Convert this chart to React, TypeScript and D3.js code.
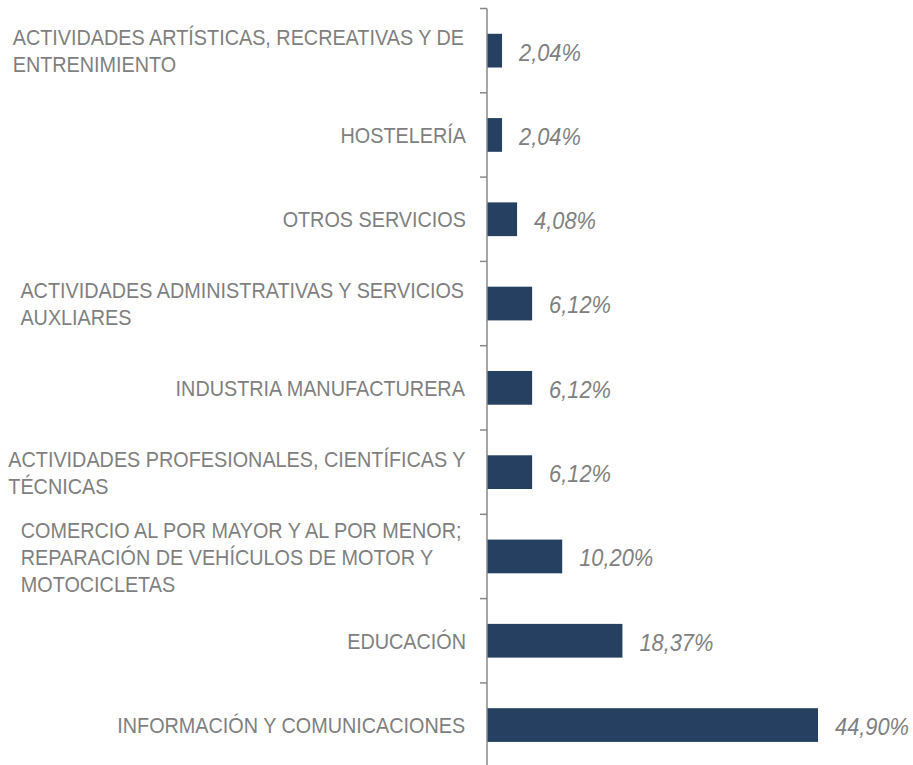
import React, { useMemo } from "react";
import * as d3 from "d3";

const categories: string[] = [
  "ACTIVIDADES ARTÍSTICAS, RECREATIVAS Y DE\nENTRENIMIENTO",
  "HOSTELERÍA",
  "OTROS SERVICIOS",
  "ACTIVIDADES ADMINISTRATIVAS Y SERVICIOS\nAUXLIARES",
  "INDUSTRIA MANUFACTURERA",
  "ACTIVIDADES PROFESIONALES, CIENTÍFICAS Y\nTÉCNICAS",
  "COMERCIO AL POR MAYOR Y AL POR MENOR;\nREPARACIÓN DE VEHÍCULOS DE MOTOR Y\nMOTOCICLETAS",
  "EDUCACIÓN",
  "INFORMACIÓN Y COMUNICACIONES",
];

const values: number[] = [2.04, 2.04, 4.08, 6.12, 6.12, 6.12, 10.2, 18.37, 44.9];

const W = 913;
const H = 765;
const FONT = "'Liberation Sans', Arial, sans-serif";
const SX = 0.88; // horizontal condensing to mimic a narrow face
const CAT_SIZE = 22.5;
const VAL_SIZE = 24.8;
const LINE_H = 27;

export default function App() {
  const axisX = 487;
  const labelRight = 466;
  const bandTop = 8.5;
  const bandStep = 84.3;

  const y = d3
    .scaleBand<number>()
    .domain(d3.range(categories.length))
    .range([bandTop, bandTop + bandStep * categories.length])
    .paddingInner(0.6)
    .paddingOuter(0.3);

  const x = d3.scaleLinear().domain([0, 50]).range([axisX, axisX + 368.6]);

  const widths = useMemo(() => {
    const c = document.createElement("canvas");
    const ctx = c.getContext("2d")!;
    ctx.font = `${CAT_SIZE}px ${FONT}`;
    return categories.map(
      (cat) => SX * Math.max(...cat.split("\n").map((l) => ctx.measureText(l).width))
    );
  }, []);

  const ticks = d3.range(categories.length + 1).map((i) => bandTop + bandStep * i);
  const fmt = (v: number) => v.toFixed(2).replace(".", ",") + "%";

  return (
    <svg
      width={W}
      height={H}
      style={{ position: "absolute", left: 0, top: 0, display: "block", background: "#fff" }}
    >
      {values.map((v, i) => {
        const bw = y.bandwidth();
        const by = y(i)!;
        return (
          <g key={i}>
            <rect x={x(0)} y={by} width={x(v) - x(0)} height={bw} fill="#264061" />
            <text
              transform={`translate(${x(v) + 17},${by + bw / 2}) scale(${SX},1)`}
              dy="0.4em"
              fontFamily={FONT}
              fontSize={VAL_SIZE}
              fontStyle="italic"
              fill="#808080"
            >
              {fmt(v)}
            </text>
          </g>
        );
      })}
      {categories.map((cat, i) => {
        const lines = cat.split("\n");
        const cy = y(i)! + y.bandwidth() / 2;
        const left = labelRight - widths[i];
        const y0 = cy - ((lines.length - 1) * LINE_H) / 2;
        return (
          <text
            key={i}
            transform={`translate(${left},${y0}) scale(${SX},1)`}
            fontFamily={FONT}
            fontSize={CAT_SIZE}
            fill="#7f7f7f"
          >
            {lines.map((l, j) => (
              <tspan key={j} x={0} y={j * LINE_H} dy="0.36em">
                {l}
              </tspan>
            ))}
          </text>
        );
      })}
      <line x1={axisX} x2={axisX} y1={bandTop} y2={H} stroke="#888" strokeWidth={1.5} />
      {ticks.map((t, i) => (
        <line key={i} x1={axisX - 7} x2={axisX} y1={t} y2={t} stroke="#888" strokeWidth={1.5} />
      ))}
    </svg>
  );
}
